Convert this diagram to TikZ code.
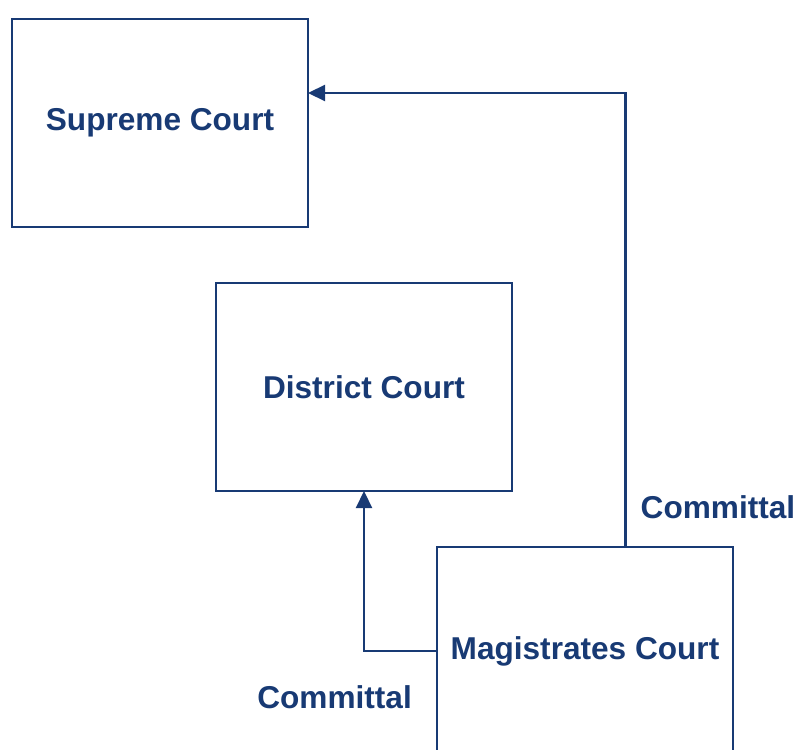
\documentclass[tikz,border=0pt]{standalone}
\usepackage{fontspec}
\setmainfont{Liberation Sans}
\usetikzlibrary{arrows.meta, positioning}
\definecolor{courtblue}{RGB}{24,58,116}
\newcommand{\tb}{\textbf}

\begin{document}
\begin{tikzpicture}[
  x=1pt, y=1pt,
  basic/.style  = {draw=courtblue, line width=2.2pt, text=courtblue, font=\fontsize{31.6}{38}\selectfont},
  court/.style  = {basic, rectangle, minimum width=296pt, minimum height=208pt, inner sep=0pt, outer sep=0pt},
  note/.style   = {text=courtblue, font=\fontsize{31.6}{38}\selectfont, inner sep=0pt},
  link/.style   = {draw=courtblue, line width=2.2pt, -{Triangle[length=17pt, width=16pt]}}]

% page frame, the lowest box runs past the bottom edge
\clip (0,0) rectangle (797,-749);

% the three courts
\node[court] (sup) at (160,-123) {\tb{Supreme Court}};
\node[court, below right=56pt and -92pt of sup] (dis) {\tb{District Court}};
\node[court, below right=56pt and -75pt of dis] (mag) {\tb{Magistrates Court}};

%------------------------------- committal routes -------------------------------
\draw[link] ([xshift=40.5pt]mag.north) |- ([yshift=30pt]sup.east);
\draw[link] (mag.west) -| (dis.south);

\node[note, anchor=west] (c1) at ([xshift=55.5pt, yshift=40pt]mag.north) {\tb{Committal}};
\node[note, anchor=east] (c2) at ([xshift=-25pt, yshift=-46pt]mag.west) {\tb{Committal}};

\end{tikzpicture}
\end{document}
